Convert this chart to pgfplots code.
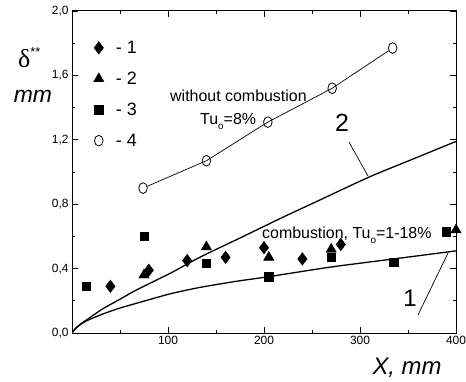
\documentclass[border=0pt]{standalone}
\usepackage{pgfplots}
\pgfplotsset{compat=1.18}
\usepackage{fontspec}
\setmainfont{Liberation Sans}
\newfontfamily\serifgr{Liberation Serif}

\pgfplotstableread{
x y
40 0.29
80 0.39
120 0.45
160 0.47
200 0.53
240 0.46
280 0.55
}\seriesA
\pgfplotstableread{
x y
75 0.36
140 0.535
205 0.47
270 0.52
400 0.64
}\seriesB
\pgfplotstableread{
x y
15 0.29
75 0.60
140 0.435
205 0.35
270 0.47
335 0.44
390 0.63
}\seriesC
\pgfplotstableread{
x y
74 0.90
140 1.07
204 1.31
271 1.52
334 1.77
}\seriesD
\pgfplotstableread{
x y
0 0
4 0.03
10 0.06
16 0.085
32 0.15
50 0.21
68 0.27
102 0.37
133 0.47
175 0.59
220 0.72
256 0.82
310 0.97
355 1.08
400 1.19
}\curveTwo
\pgfplotstableread{
x y
0 0
4 0.03
10 0.058
16 0.078
32 0.118
50 0.155
68 0.186
102 0.243
133 0.283
170 0.32
205 0.35
270 0.41
335 0.46
400 0.51
}\curveOne

\begin{document}
\begin{tikzpicture}
\begin{axis}[
  scale only axis, width=384bp, height=322bp,
  xmin=0, xmax=400, ymin=0, ymax=2,
  clip mode=individual,
  xtick={100,200,300,400}, xticklabels={100,200,300,400},
  minor xtick={50,150,250,350},
  ytick={0,0.4,0.8,1.2,1.6,2.0},
  yticklabels={{0,0},{0,4},{0,8},{1,2},{1,6},{2,0}},
  minor ytick={0.2,0.6,1.0,1.4,1.8},
  tick align=inside, major tick length=6bp, minor tick length=3.5bp,
  every tick/.style={black, line width=0.8bp},
  axis line style={line width=1bp},
  ticklabel style={font=\fontsize{12}{12}\selectfont},
  xlabel={X, mm},
  xlabel style={at={(rel axis cs:0.8725,-0.1304)}, anchor=base, font=\fontsize{24}{24}\selectfont\itshape},
  ylabel={mm},
  ylabel style={rotate=-90, at={(rel axis cs:-0.1016,0.717)}, anchor=base, font=\fontsize{23}{23}\selectfont\itshape},
  legend style={draw=none, fill=none, at={(rel axis cs:0.048,0.92)}, anchor=north west,
    font=\fontsize{18}{18}\selectfont, row sep=13bp,
    /tikz/every odd column/.append style={column sep=10bp}},
  legend cell align=left,
]
\coordinate (ll) at (rel axis cs:0,0);
\coordinate (ur) at (rel axis cs:1,1);
\addplot[only marks, mark=diamond*, mark size=6.3, black] table[x=x,y=y] {\seriesA};
\addlegendentry{- 1}
\addplot[only marks, mark=triangle*, mark size=6, black] table[x=x,y=y] {\seriesB};
\addlegendentry{- 2}
\addplot[only marks, mark=square*, mark size=4.2, black] table[x=x,y=y] {\seriesC};
\addlegendentry{- 3}
\addplot[only marks, mark=o, mark size=4.3, black, mark options={yscale=1.25, line width=0.8bp, fill=white}] table[x=x,y=y] {\seriesD};
\addlegendentry{- 4}
\addplot[forget plot, black, line width=0.7bp, shorten >=4.5bp, shorten <=4.5bp] table[x=x,y=y] {\seriesD};
\addplot[forget plot, black, line width=1.3bp, smooth, tension=0.4] table[x=x,y=y] {\curveTwo};
\addplot[forget plot, black, line width=1.3bp, smooth, tension=0.4] table[x=x,y=y] {\curveOne};

\node[anchor=base, font=\fontsize{16}{16}\selectfont] at (axis cs:173.4,1.435) {without combustion};
\node[anchor=base west, inner sep=0pt, font=\fontsize{16}{16}\selectfont] at (axis cs:133.3,1.292) {Tu\raisebox{-5bp}{\fontsize{10}{10}\selectfont o}=8\%};
\node[anchor=base west, inner sep=0pt, font=\fontsize{16}{16}\selectfont] at (axis cs:197.9,0.59) {combustion, Tu\raisebox{-5bp}{\fontsize{10}{10}\selectfont o}=1-18\%};
\node[font=\fontsize{25}{25}\selectfont] at (axis cs:281.25,1.304) {2};
\node[font=\fontsize{24}{24}\selectfont] at (axis cs:352.1,0.217) {1};
\draw[line width=0.7bp] (axis cs:288.5,1.186) -- (axis cs:308.3,0.975);
\draw[line width=0.7bp] (axis cs:360.4,0.112) -- (axis cs:391.7,0.497);
\node[anchor=base west, inner sep=0pt] at (rel axis cs:-0.1406,0.826) {{\serifgr\fontsize{26}{26}\selectfont δ}\raisebox{11bp}{\fontsize{13}{13}\selectfont **}};
\end{axis}
\pgfresetboundingbox
\path ([shift={(-72bp,-49bp)}]ll) rectangle ([shift={(10bp,11bp)}]ur);
\end{tikzpicture}
\end{document}
